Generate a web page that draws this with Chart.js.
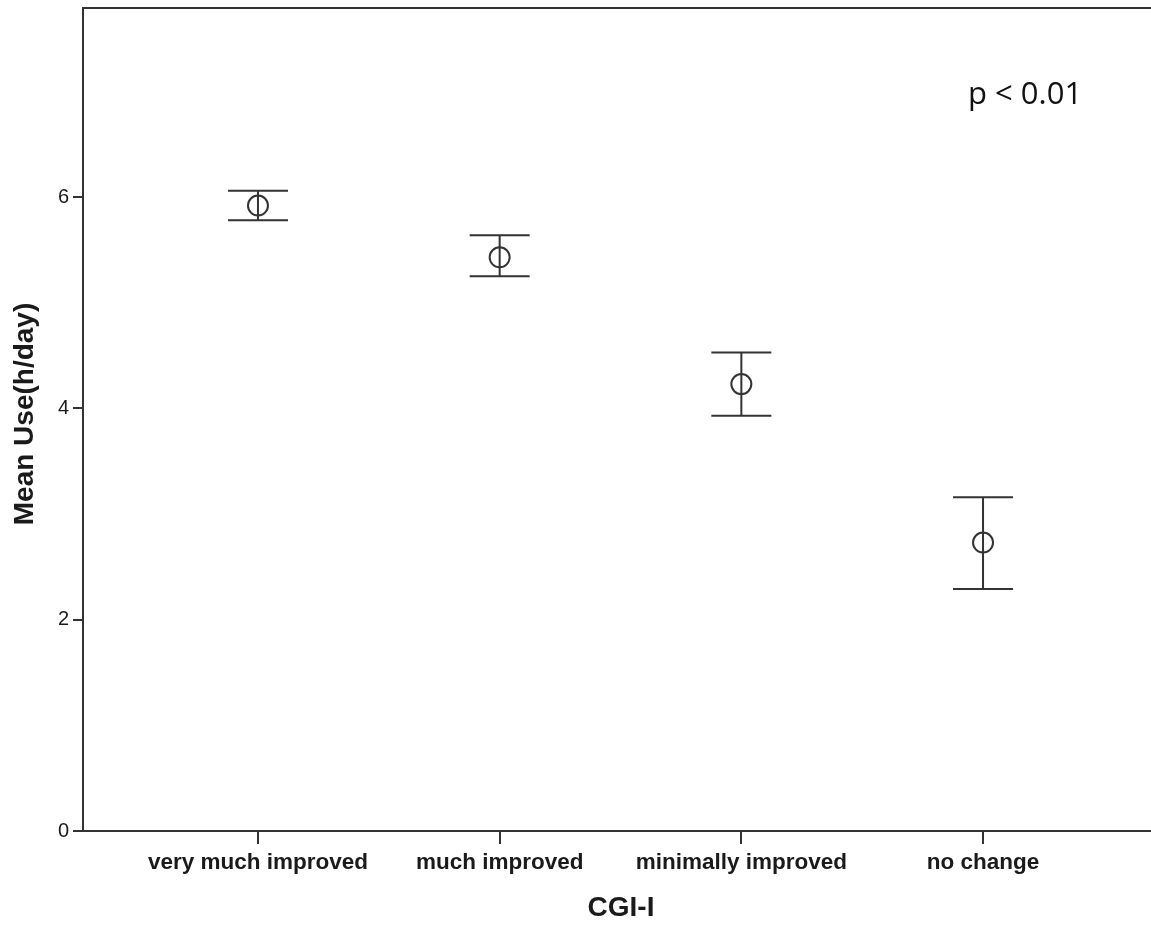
<!DOCTYPE html>
<html>
<head>
<meta charset="utf-8">
<script src="https://cdn.jsdelivr.net/npm/chart.js@4"></script>
<style>
  html, body { margin: 0; padding: 0; background: #ffffff; overflow: hidden; }
  #wrap { width: 1151px; height: 927px; position: relative; }
</style>
</head>
<body>
<div id="wrap"><canvas id="chart" width="1151" height="927"></canvas></div>
<script>
// CGI-I groups and mean daily use with error-bar limits (h/day)
const categories = ['very much improved', 'much improved', 'minimally improved', 'no change'];
const meanUse = [5.92, 5.43, 4.23, 2.73];
const upperLimit = [6.06, 5.64, 4.53, 3.16];
const lowerLimit = [5.78, 5.25, 3.93, 2.29];
const yTicks = [0, 2, 4, 6];
const annotation = 'p < 0.01';

const ink = '#333333';

// Vertical whiskers with horizontal caps around each mean
const errorBars = {
  id: 'errorBars',
  beforeDatasetsDraw(chart) {
    const { ctx, scales: { x, y } } = chart;
    ctx.save();
    ctx.strokeStyle = ink;
    ctx.lineWidth = 2;
    const capHalf = 30;
    categories.forEach((_, i) => {
      const px = x.getPixelForValue(i);
      const pTop = y.getPixelForValue(upperLimit[i]);
      const pBot = y.getPixelForValue(lowerLimit[i]);
      ctx.beginPath();
      ctx.moveTo(px, pTop); ctx.lineTo(px, pBot);
      ctx.moveTo(px - capHalf, pTop); ctx.lineTo(px + capHalf, pTop);
      ctx.moveTo(px - capHalf, pBot); ctx.lineTo(px + capHalf, pBot);
      ctx.stroke();
    });
    ctx.restore();
  }
};

// Top frame line, axis titles and the significance note
const decorations = {
  id: 'decorations',
  afterDraw(chart) {
    const { ctx, chartArea } = chart;
    ctx.save();
    ctx.strokeStyle = ink;
    ctx.lineWidth = 2;
    ctx.beginPath();
    ctx.moveTo(chartArea.left, chartArea.top);
    ctx.lineTo(chartArea.right, chartArea.top);
    ctx.stroke();

    ctx.fillStyle = '#1a1a1a';
    ctx.textAlign = 'center';
    ctx.textBaseline = 'middle';
    ctx.font = 'bold 28px "Liberation Sans", Arial, sans-serif';
    ctx.fillText('CGI-I', (chartArea.left + chartArea.right) / 2 + 4, 908);

    ctx.save();
    ctx.translate(25, 414);
    ctx.rotate(-Math.PI / 2);
    ctx.fillText('Mean Use(h/day)', 0, 0);
    ctx.restore();

    ctx.fillStyle = '#111111';
    ctx.textAlign = 'left';
    ctx.textBaseline = 'alphabetic';
    ctx.font = '31px "Open Sans", sans-serif';
    ctx.fillText(annotation, 968, 104);
    ctx.restore();
  }
};

new Chart(document.getElementById('chart'), {
  type: 'scatter',
  data: {
    datasets: [{
      data: meanUse.map((v, i) => ({ x: i, y: v })),
      pointStyle: 'circle',
      pointRadius: 10,
      pointHoverRadius: 10,
      pointBorderWidth: 2,
      pointBorderColor: ink,
      pointBackgroundColor: 'rgba(0,0,0,0)',
      showLine: false
    }]
  },
  options: {
    responsive: false,
    animation: false,
    events: [],
    layout: { autoPadding: false, padding: { top: 8, right: 0, left: 0, bottom: 0 } },
    plugins: { legend: { display: false }, tooltip: { enabled: false } },
    scales: {
      x: {
        type: 'linear',
        min: -0.724,
        max: 3.695,
        afterBuildTicks(scale) { scale.ticks = categories.map((_, i) => ({ value: i })); },
        afterFit(scale) {
          scale.height = 96;
          scale.paddingLeft = 0;
          scale.paddingRight = 0;
        },
        grid: { display: true, drawOnChartArea: false, drawTicks: true, tickLength: 13, color: ink, lineWidth: 2 },
        border: { display: true, color: ink, width: 2 },
        ticks: {
          autoSkip: false,
          maxRotation: 0,
          padding: 5,
          color: '#1a1a1a',
          font: { family: '"Liberation Sans", Arial, sans-serif', size: 22.5, weight: 'bold' },
          callback: (v) => categories[v] ?? ''
        }
      },
      y: {
        min: 0,
        max: 7.79,
        afterBuildTicks(scale) { scale.ticks = yTicks.map(v => ({ value: v })); },
        afterFit(scale) {
          scale.width = 83;
          scale.paddingTop = 0;
          scale.paddingBottom = 0;
        },
        grid: { display: true, drawOnChartArea: false, drawTicks: true, tickLength: 10, color: ink, lineWidth: 2 },
        border: { display: true, color: ink, width: 2 },
        ticks: {
          padding: 4,
          color: '#1a1a1a',
          font: { family: '"Liberation Sans", Arial, sans-serif', size: 20 },
          callback: (v) => String(v)
        }
      }
    }
  },
  plugins: [errorBars, decorations]
});
</script>
</body>
</html>
